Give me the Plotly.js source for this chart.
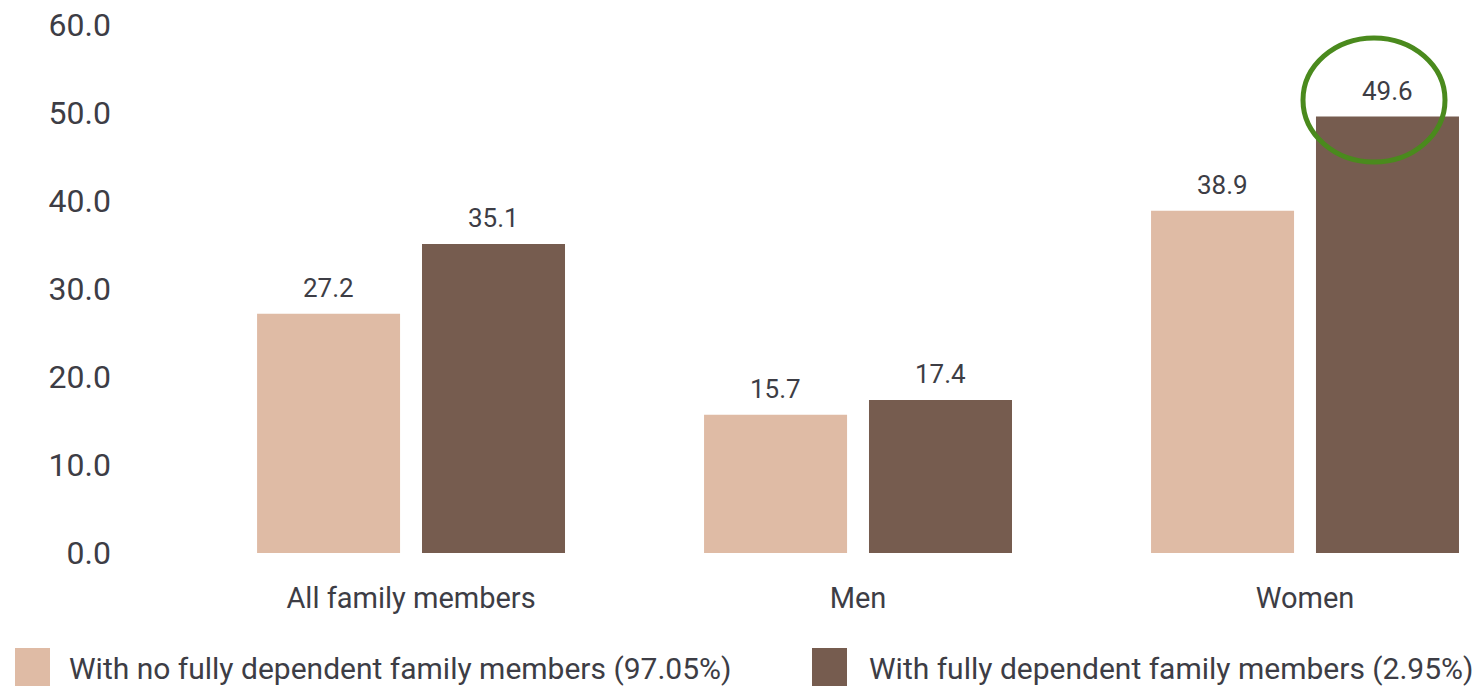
<!DOCTYPE html>
<html>
<head>
<meta charset="utf-8">
<script src="https://cdn.plot.ly/plotly-3.0.1.min.js"></script>
<style>html,body{margin:0;padding:0;background:#fff;}#chart{width:1478px;height:688px;}</style>
</head>
<body>
<div id="chart"></div>
<script>
const categories = ["All family members", "Men", "Women"];
const seriesNames = ["With no fully dependent family members (97.05%)", "With fully dependent family members (2.95%)"];
const noDependent = [27.2, 15.7, 38.9];
const withDependent = [35.1, 17.4, 49.6];
const yTickValues = [0, 10, 20, 30, 40, 50, 60];
const yTickLabels = ["0.0", "10.0", "20.0", "30.0", "40.0", "50.0", "60.0"];

const colors = ["#DFBBA5", "#765C4F"];
const textColor = "#3d3d45";
const font = "Roboto, 'Open Sans', sans-serif";

const xIdx = categories.map((c, i) => i);
const seriesValues = [noDependent, withDependent];

const traces = seriesValues.map((vals, s) => ({
  type: "bar",
  x: xIdx,
  y: vals,
  name: seriesNames[s],
  marker: {color: colors[s]},
  hoverinfo: "y",
  showlegend: false
}));

// Data label annotations
const annotations = [];
const catWidth = 1 - 0.262;
const slot = catWidth / 2;
seriesValues.forEach((vals, s) => {
  vals.forEach((v, i) => {
    annotations.push({
      x: i + (s === 0 ? -slot / 2 : slot / 2),
      y: v,
      xref: "x", yref: "y",
      text: v.toFixed(1),
      showarrow: false,
      yanchor: "bottom",
      yshift: 9,
      font: {family: font, size: 26, color: textColor}
    });
  });
});

// Custom legend
const L = 112, W = 1478 - 112, T = 25, B = 553, H = B - T;
const px = x => (x - L) / W;
const py = y => (B - y) / H;
const shapes = [];
const legendX = [[15, 50, 67], [812, 847, 867]];
seriesNames.forEach((n, s) => {
  shapes.push({
    type: "rect", xref: "paper", yref: "paper",
    x0: px(legendX[s][0]), x1: px(legendX[s][1]), y0: py(686), y1: py(648),
    fillcolor: colors[s], line: {width: 0}
  });
  annotations.push({
    xref: "paper", yref: "paper",
    x: px(legendX[s][2]), y: py(668),
    xanchor: "left", yanchor: "middle",
    text: n, showarrow: false,
    font: {family: font, size: 30, color: textColor}
  });
});

// Green highlight ellipse
shapes.push({
  type: "circle", xref: "paper", yref: "paper",
  x0: px(1303), x1: px(1445), y0: py(162), y1: py(38),
  line: {color: "#4A8A1D", width: 5}, fillcolor: "rgba(0,0,0,0)"
});

const layout = {
  width: 1478, height: 688,
  margin: {l: L, r: 0, t: T, b: 688 - B, pad: 0},
  paper_bgcolor: "#fff", plot_bgcolor: "#fff",
  barmode: "group",
  bargap: 0.262,
  bargroupgap: 0.133,
  xaxis: {
    tickmode: "array", tickvals: xIdx, ticktext: categories,
    range: [-0.669, 2.387],
    showgrid: false, zeroline: false, showline: false,
    ticks: "outside", ticklen: 19, tickcolor: "rgba(0,0,0,0)",
    tickfont: {family: font, size: 29, color: textColor},
    fixedrange: true
  },
  yaxis: {
    range: [0, 60],
    tickmode: "array", tickvals: yTickValues, ticktext: yTickLabels,
    showgrid: false, zeroline: false, showline: false,
    ticks: "",
    tickfont: {family: font, size: 32, color: textColor},
    fixedrange: true
  },
  shapes: shapes,
  annotations: annotations,
  showlegend: false
};

Plotly.newPlot("chart", traces, layout, {displayModeBar: false, staticPlot: true});
</script>
</body>
</html>
